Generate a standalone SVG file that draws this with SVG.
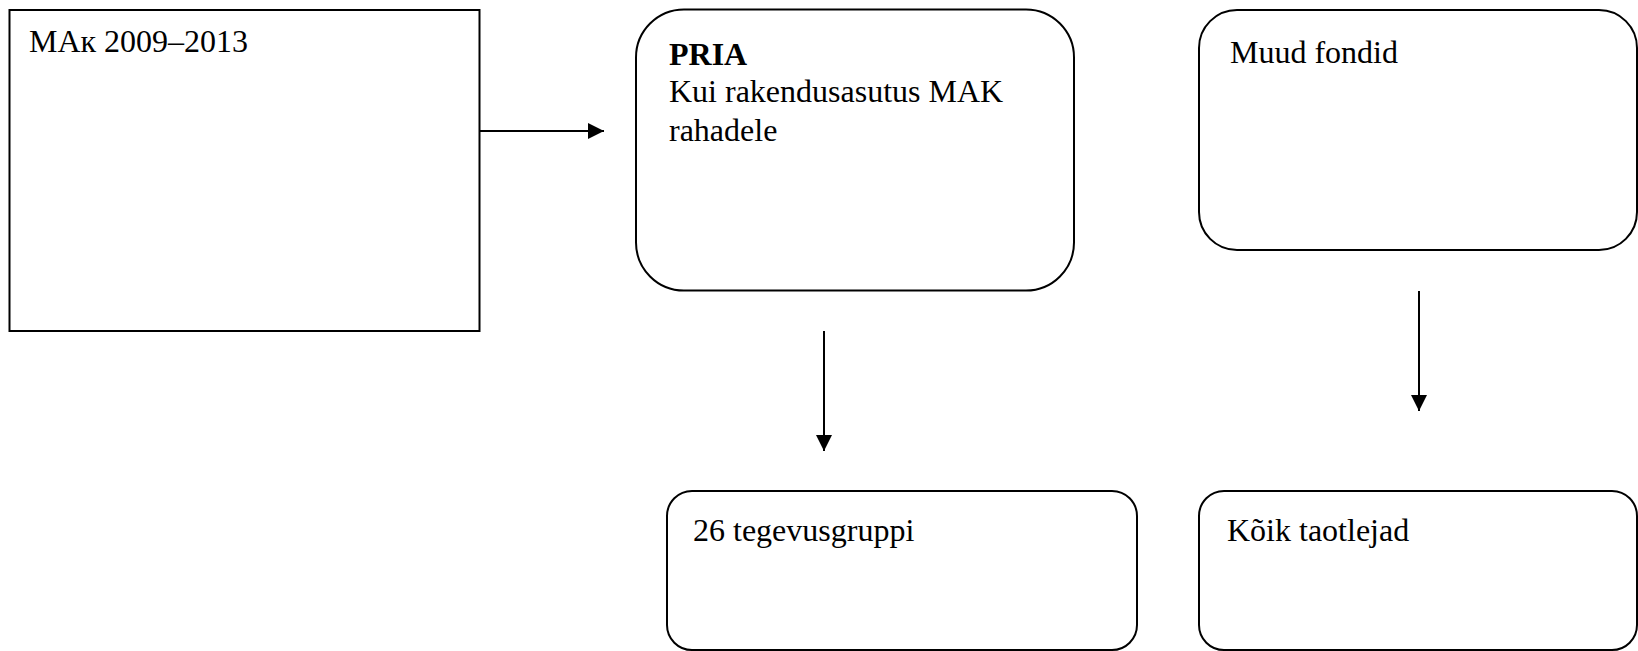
<svg xmlns="http://www.w3.org/2000/svg" width="1638" height="651" viewBox="0 0 1638 651">
<style>
.box{fill:#fff;stroke:#000;stroke-width:2}
.t{font-family:"Liberation Serif","Times New Roman",serif;font-size:32px;fill:#000}
.b{font-weight:bold}
.c{stroke:#000;stroke-width:2;fill:none}
</style>
<defs>
<marker id="ah" viewBox="0 0 16 16" refX="16" refY="8" markerWidth="16" markerHeight="16" markerUnits="userSpaceOnUse" orient="auto">
<path d="M0,0 L16,8 L0,16 Z" fill="#000"/>
</marker>
</defs>
<rect width="1638" height="651" fill="#fff"/>
<g id="connectors">
<line class="c" x1="479" y1="131" x2="604" y2="131" marker-end="url(#ah)"/>
<line class="c" x1="824" y1="331" x2="824" y2="451" marker-end="url(#ah)"/>
<line class="c" x1="1419" y1="291" x2="1419" y2="411" marker-end="url(#ah)"/>
</g>
<g id="node-mak">
<rect class="box" x="9.5" y="10" width="470" height="321"/>
<text class="t" x="29" y="52">MAк 2009–2013</text>
</g>
<g id="node-pria">
<rect class="box" x="636" y="9.5" width="438" height="281" rx="48" ry="48"/>
<text class="t" x="669" y="65"><tspan class="b">PRIA</tspan><tspan x="669" y="102">Kui rakendusasutus MAK</tspan><tspan x="669" y="141">rahadele</tspan></text>
</g>
<g id="node-muud">
<rect class="box" x="1199" y="10" width="438" height="240" rx="38" ry="38"/>
<text class="t" x="1230" y="63">Muud fondid</text>
</g>
<g id="node-tegevusgrupid">
<rect class="box" x="667" y="491" width="470" height="159" rx="25" ry="25"/>
<text class="t" x="693" y="541">26 tegevusgruppi</text>
</g>
<g id="node-taotlejad">
<rect class="box" x="1199" y="491" width="438" height="159" rx="25" ry="25"/>
<text class="t" x="1227" y="541">Kõik taotlejad</text>
</g>
</svg>
